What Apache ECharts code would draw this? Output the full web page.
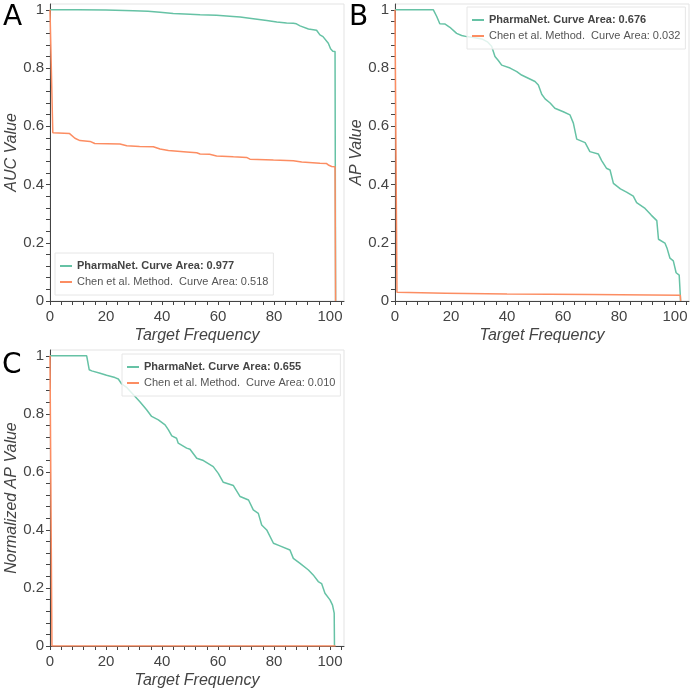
<!DOCTYPE html>
<html>
<head>
<meta charset="utf-8">
<script src="https://cdn.jsdelivr.net/npm/echarts@6/dist/echarts.min.js"></script>
<style>html,body{margin:0;padding:0;background:#fff;}#c{width:692px;height:694px;}</style>
</head>
<body>
<div id="c"></div>
<script>
// ---- data ----
const xTickValues = [0,4,8,12,16,20,24,28,32,36,40,44,48,52,56,60,64,68,72,76,80,84,88,92,96,100,104];
const xLabelValues = [0,20,40,60,80,100];
const yTickValues = [0,0.04,0.08,0.12,0.16,0.2,0.24,0.28,0.32,0.36,0.4,0.44,0.48,0.52,0.56,0.6,0.64,0.68,0.72,0.76,0.8,0.84,0.88,0.92,0.96,1];
const yLabelValues = [0,0.2,0.4,0.6,0.8,1];

const aucPharma = [[0,1.0],[10,1.0],[20,0.999],[29.8,0.997],[35,0.995],[39.3,0.992],[44,0.987],[50,0.985],[53.6,0.983],[59.5,0.981],[65.4,0.977],[67.9,0.975],[72.6,0.969],[77.4,0.963],[81,0.958],[84.5,0.955],[86.9,0.954],[88,0.952],[89.3,0.945],[92.3,0.934],[95.2,0.930],[96.4,0.914],[97.5,0.908],[98.2,0.905],[99.4,0.885],[100.2,0.866],[101,0.858],[101.8,0.857],[102,0]];
const aucChen = [[0,1.0],[1,0.578],[7,0.575],[8.9,0.559],[10.7,0.551],[14.3,0.548],[16,0.541],[25,0.539],[27.4,0.533],[32,0.531],[36.9,0.530],[39.3,0.522],[42.3,0.517],[48.8,0.512],[52.4,0.509],[53.6,0.505],[57,0.504],[59.5,0.498],[65.5,0.495],[70.2,0.493],[71.4,0.487],[79.8,0.484],[86.9,0.482],[89.9,0.477],[96.4,0.473],[98.8,0.472],[99.6,0.466],[100.6,0.462],[101.8,0.461],[102,0]];
const apPharma = [[0,1],[13.7,1],[14.9,0.977],[16,0.952],[17.9,0.951],[19.6,0.94],[22,0.919],[23.8,0.912],[25.6,0.908],[28,0.905],[31,0.9],[33,0.89],[34.5,0.875],[35.7,0.84],[36.9,0.826],[38.1,0.81],[41.1,0.8],[43.5,0.788],[45.2,0.776],[47.6,0.765],[50,0.754],[51.2,0.742],[52.4,0.71],[53.6,0.694],[55.4,0.68],[57.1,0.662],[60.1,0.65],[62.5,0.639],[63.7,0.611],[64.9,0.556],[67.9,0.544],[69.6,0.513],[72.6,0.505],[73.8,0.482],[75.5,0.456],[76.8,0.45],[78,0.404],[80.5,0.385],[82.7,0.374],[85.1,0.36],[86.3,0.338],[89.3,0.318],[91.5,0.295],[93.5,0.276],[94.1,0.212],[96.4,0.199],[97.2,0.18],[98.2,0.147],[99.4,0.138],[100.4,0.097],[101.5,0.089],[102,0]];
const apChen = [[0,1],[0.7,0.03],[1.2,0.029],[18,0.027],[40,0.024],[70,0.022],[101.9,0.02],[102,0]];
const napPharma = [[0,1],[13.1,1],[14,0.952],[14.9,0.948],[17.9,0.94],[20.2,0.933],[23.2,0.925],[24.4,0.92],[25.6,0.903],[27.5,0.89],[29.8,0.866],[32.1,0.842],[34.5,0.814],[36.3,0.791],[38.7,0.779],[41.1,0.762],[42.3,0.745],[43.5,0.724],[45.2,0.716],[45.8,0.699],[48.8,0.682],[50,0.678],[52.4,0.647],[54.8,0.639],[58.3,0.618],[60.1,0.595],[61.9,0.564],[65.5,0.553],[67.9,0.515],[70.9,0.503],[72.6,0.469],[74.4,0.457],[75.6,0.417],[77.4,0.4],[79.8,0.354],[82.1,0.345],[85.7,0.331],[86.9,0.302],[89.3,0.285],[92.3,0.262],[94,0.245],[95.8,0.222],[97,0.215],[98.2,0.182],[100,0.159],[100.9,0.141],[101.5,0.113],[101.6,0]];
const napChen = [[0,1],[0.7,0],[102,0]];

const panelLetters = ['A','B','C'];
const yNames = ['AUC Value','AP Value','Normalized AP Value'];
const xName = 'Target Frequency';
const pharmaNames = ['PharmaNet. Curve Area: 0.977','PharmaNet. Curve Area: 0.676','PharmaNet. Curve Area: 0.655'];
const chenNames = ['Chen et al. Method.  Curve Area: 0.518','Chen et al. Method.  Curve Area: 0.032','Chen et al. Method.  Curve Area: 0.010'];
const pharmaData = [aucPharma, apPharma, napPharma];
const chenData = [aucChen, apChen, napChen];

// ---- layout / style ----
const FONT = '"Liberation Sans", Arial, sans-serif';
const GREEN = '#66c2a5', ORANGE = '#fc8d62', AX = '#444';
const grids = [
  {left:50, top:4, width:294, height:297},
  {left:395, top:4, width:294, height:297},
  {left:50, top:350, width:294, height:296}
];
const legendPos = [{left:55, top:253},{left:467, top:7},{left:122, top:354}];
const letterPos = [{x:3,y:4},{x:349,y:4},{x:2,y:352}];

const option = {
  animation:false,
  backgroundColor:'#fff',
  grid: grids.map(g => Object.assign({show:true, borderColor:'#e3e3e3', borderWidth:1, containLabel:false}, g)),
  xAxis: grids.map((g,i) => ({
    type:'value', gridIndex:i, min:0, max:105,
    name:xName, nameLocation:'middle', nameGap:27,
    nameTextStyle:{fontStyle:'italic', fontSize:16, color:AX, fontFamily:FONT},
    axisLine:{show:true, onZero:false, lineStyle:{color:AX, width:1}},
    axisTick:{show:true, length:4, customValues:xTickValues, lineStyle:{color:AX}},
    axisLabel:{show:true, customValues:xLabelValues, margin:8, fontSize:15, color:AX, fontFamily:FONT},
    splitLine:{show:false}
  })),
  yAxis: grids.map((g,i) => ({
    type:'value', gridIndex:i, min:0, max:1.02,
    name:yNames[i], nameLocation:'middle', nameGap:24, nameRotate:90,
    nameTextStyle:{fontStyle:'italic', fontSize:16, color:AX, fontFamily:FONT},
    axisLine:{show:true, onZero:false, lineStyle:{color:AX, width:1}},
    axisTick:{show:true, length:4, customValues:yTickValues, lineStyle:{color:AX}},
    axisLabel:{show:true, customValues:yLabelValues, margin:6, fontSize:15, color:AX, fontFamily:FONT,
      formatter: v => (Math.abs(v) < 1e-9 ? '0' : (Math.abs(v-1) < 1e-9 ? '1' : v.toFixed(1)))},
    splitLine:{show:false}
  })),
  legend: grids.map((g,i) => ({
    orient:'vertical', left:legendPos[i].left, top:legendPos[i].top,
    data:[pharmaNames[i], chenNames[i]],
    icon:'rect', itemWidth:12, itemHeight:2, itemGap:0,
    padding:[5,5,5,5],
    borderColor:'#e6e6e6', borderWidth:1, backgroundColor:'rgba(255,255,255,0.8)',
    selectedMode:false,
    formatter: name => (name.indexOf('PharmaNet') === 0 ? '{b|' + name + '}' : '{n|' + name + '}'),
    textStyle:{fontSize:11, fontFamily:FONT, color:'#444', lineHeight:16,
      rich:{
        b:{fontWeight:'bold', fontSize:11, color:'#444', fontFamily:FONT, lineHeight:16, height:16},
        n:{fontSize:11, color:'#555', fontFamily:FONT, lineHeight:16, height:16}
      }}
  })),
  series: [],
  graphic: panelLetters.map((t,i) => ({
    type:'text', left:letterPos[i].x, top:letterPos[i].y, z:100,
    style:{text:t, fontSize:28, fontFamily:'"DejaVu Sans"', fill:'#000'}
  }))
};

for (let i = 0; i < 3; i++) {
  option.series.push({
    type:'line', name:pharmaNames[i], xAxisIndex:i, yAxisIndex:i, data:pharmaData[i],
    showSymbol:false, symbol:'none', lineStyle:{width:1.5, color:GREEN}, itemStyle:{color:GREEN}, z:2
  });
  option.series.push({
    type:'line', name:chenNames[i], xAxisIndex:i, yAxisIndex:i, data:chenData[i],
    showSymbol:false, symbol:'none', lineStyle:{width:1.5, color:ORANGE}, itemStyle:{color:ORANGE}, z:3
  });
}

const chart = echarts.init(document.getElementById('c'), null, {renderer:'canvas'});
chart.setOption(option);
</script>
</body>
</html>
